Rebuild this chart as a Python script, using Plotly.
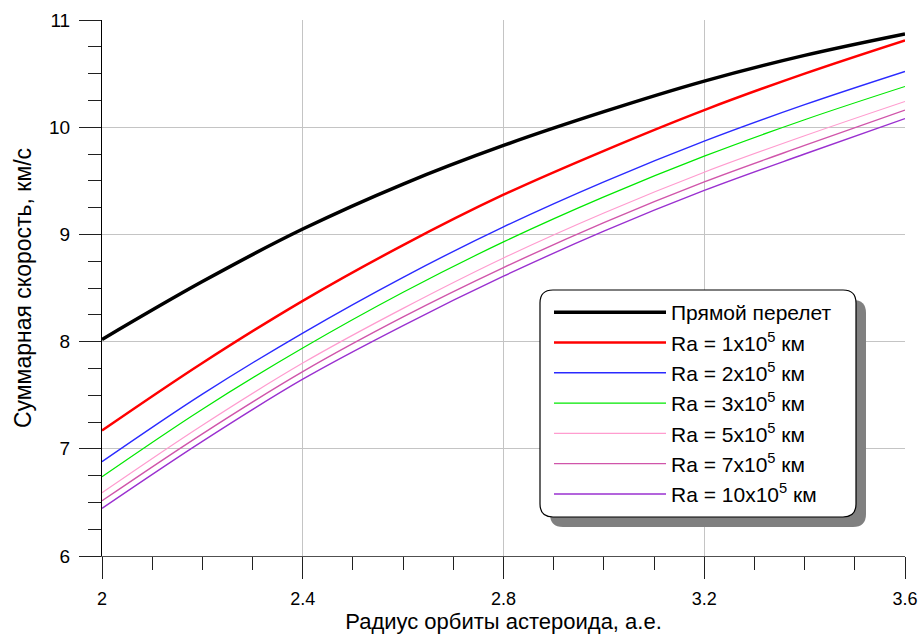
import plotly.graph_objects as go

# Radius of asteroid orbit, a.u.
radius = [2.0, 2.2, 2.4, 2.6, 2.8, 3.0, 3.2, 3.4, 3.6]

direct = [8.02, 8.56, 9.05, 9.47, 9.83, 10.145, 10.43, 10.67, 10.87]
ra1 = [7.17, 7.80, 8.38, 8.90, 9.37, 9.78, 10.16, 10.50, 10.81]
ra2 = [6.88, 7.51, 8.08, 8.60, 9.07, 9.49, 9.87, 10.21, 10.52]
ra3 = [6.74, 7.37, 7.94, 8.46, 8.93, 9.35, 9.73, 10.07, 10.38]
ra5 = [6.59, 7.22, 7.80, 8.31, 8.78, 9.20, 9.58, 9.92, 10.24]
ra7 = [6.515, 7.14, 7.72, 8.23, 8.69, 9.11, 9.49, 9.83, 10.16]
ra10 = [6.445, 7.07, 7.65, 8.15, 8.61, 9.03, 9.41, 9.75, 10.08]

names = [
    "Прямой перелет",
    "Ra = 1x10<sup>5</sup> км",
    "Ra = 2x10<sup>5</sup> км",
    "Ra = 3x10<sup>5</sup> км",
    "Ra = 5x10<sup>5</sup> км",
    "Ra = 7x10<sup>5</sup> км",
    "Ra = 10x10<sup>5</sup> км",
]
series = [direct, ra1, ra2, ra3, ra5, ra7, ra10]
colors = ["#000000", "#ff0000", "#2a2aff", "#00e800", "#ff9ccf", "#d055aa", "#9a30d0"]
widths = [3.5, 2.5, 1.4, 1.2, 1.2, 1.4, 1.4]

W, H = 920, 634
L, R, T, B = 102, 15, 20, 78
PW, PH = W - L - R, H - T - B


def px(xp):
    return (xp - L) / PW


def py(yp):
    return (H - B - yp) / PH


fig = go.Figure()
for n, ys, c, w in zip(names, series, colors, widths):
    fig.add_trace(go.Scatter(
        x=radius, y=ys, name=n, mode="lines",
        line=dict(color=c, width=w, shape="spline", smoothing=1.0),
    ))

font = "Liberation Sans, Arial, sans-serif"


def rounded(x0, y0, x1, y1, r):
    # pixel coords -> paper path with rounded corners
    rx, ry = r / PW, r / PH
    a, b, c, d = px(x0), py(y0), px(x1), py(y1)  # b top (higher), d bottom
    return (f"M{a+rx},{b} L{c-rx},{b} Q{c},{b} {c},{b-ry} L{c},{d+ry} Q{c},{d} {c-rx},{d} "
            f"L{a+rx},{d} Q{a},{d} {a},{d+ry} L{a},{b-ry} Q{a},{b} {a+rx},{b} Z")


shapes = [
    dict(type="path", xref="paper", yref="paper", layer="above",
         path=rounded(550, 300, 866, 527, 13), fillcolor="#808080", line=dict(width=0)),
    dict(type="path", xref="paper", yref="paper", layer="above",
         path=rounded(540, 290, 856, 517, 13), fillcolor="white",
         line=dict(color="black", width=1.2)),
]

fig.update_layout(
    width=W, height=H,
    margin=dict(l=L, r=R, t=T, b=B),
    paper_bgcolor="white", plot_bgcolor="white",
    font=dict(family=font, size=18, color="black"),
    shapes=shapes,
    showlegend=True,
    legend=dict(
        x=px(549), y=py(292), xanchor="left", yanchor="top",
        bgcolor="rgba(0,0,0,0)", borderwidth=0,
        font=dict(family=font, size=21, color="black"),
        itemwidth=112, tracegroupgap=0,
    ),
    xaxis=dict(
        range=[2, 3.6], dtick=0.4, tick0=2, automargin=False,
        showgrid=True, gridcolor="#c4c4c4", gridwidth=1,
        zeroline=False, showline=True, linecolor="#505050", linewidth=1,
        ticks="outside", ticklen=22, tickcolor="#202020", tickwidth=1,
        minor=dict(dtick=0.1, tick0=2, ticks="outside", ticklen=13, tickcolor="#202020", showgrid=False),
        tickfont=dict(size=18), ticklabelstandoff=4,
        title=dict(text="Радиус орбиты астероида, а.е.", font=dict(size=22), standoff=17),
    ),
    yaxis=dict(
        range=[6, 11], dtick=1, tick0=6, automargin=False,
        showgrid=True, gridcolor="#c4c4c4", gridwidth=1,
        zeroline=False, showline=True, linecolor="black", linewidth=1,
        ticks="outside", ticklen=22, tickcolor="#202020", tickwidth=1,
        minor=dict(dtick=0.25, tick0=6, ticks="outside", ticklen=13, tickcolor="#202020", showgrid=False),
        tickfont=dict(size=19), ticklabelstandoff=5,
        title=dict(text="Суммарная скорость, км/с", font=dict(size=23), standoff=11),
    ),
)

fig.write_html(
    "out.html",
    config={"displayModeBar": False},
    post_script="document.body.style.margin='0';document.body.style.overflow='hidden';",
)
